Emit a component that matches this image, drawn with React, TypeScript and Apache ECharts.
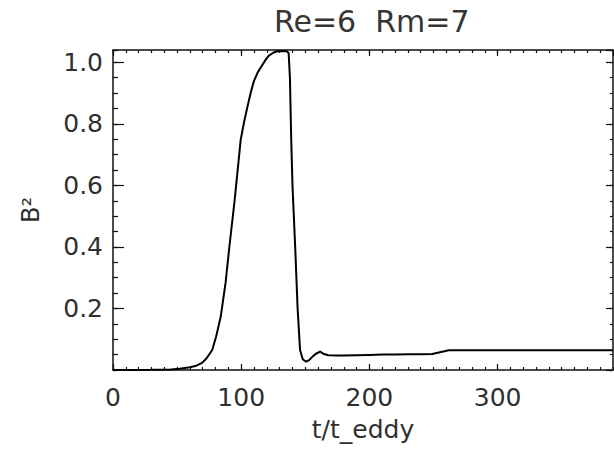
import React, { useEffect, useRef } from "react";
import * as echarts from "echarts";

const titleText = "Re=6  Rm=7";
const xName = "t/t_eddy";
const yName = "B²";

const tValues = [
  0, 20, 30, 45, 52, 60, 65, 69.5, 73, 77.4, 80.5, 84, 87.8, 90.5, 94.9, 97, 99.6,
  102.2, 104.9, 107.5, 110, 113, 116.6, 119, 121.6, 125, 128, 132, 135.5, 137, 138, 139,
  140, 142.2, 144, 145.9, 148, 150.6, 153, 156, 158, 161.5, 164, 168, 175, 180, 190,
  200, 210, 220, 230, 240, 249, 255, 262, 300, 350, 390,
];
const b2Values = [
  0, 0, 0.0005, 0.002, 0.004, 0.009, 0.014, 0.023, 0.038, 0.065, 0.11, 0.173, 0.283,
  0.39, 0.553, 0.64, 0.748, 0.805, 0.856, 0.903, 0.94, 0.968, 0.992, 1.008, 1.022, 1.031,
  1.036, 1.037, 1.036, 1.03, 0.95, 0.75, 0.6, 0.39, 0.2, 0.065, 0.035, 0.027, 0.032,
  0.045, 0.052, 0.06, 0.053, 0.048, 0.047, 0.047, 0.048, 0.049, 0.05, 0.05, 0.051,
  0.051, 0.052, 0.058, 0.064, 0.064, 0.064, 0.064,
];

const xMin = 0;
const xMax = 390;
const xMajor = 100;
const xMinor = 10;
const yMin = 0;
const yMax = 1.04;
const yMajor = 0.2;
const yMinor = 0.05;

const FONT = "DejaVu Sans";
const INK = "#111";
const TXT = "#303030";

export default function App() {
  const ref = useRef<HTMLDivElement>(null);
  useEffect(() => {
    if (!ref.current) return;
    const chart = echarts.init(ref.current, undefined, { renderer: "svg" });
    const gridBox = { left: 113, right: 1, top: 50, bottom: 80 };
    const line = { show: true, onZero: false, lineStyle: { color: INK, width: 1.5 } };
    const noLine = { show: false, onZero: false };
    const tick = (len: number) => ({
      show: true,
      inside: true,
      length: len,
      lineStyle: { color: INK, width: 1.2 },
    });
    const data = tValues.map((t, i) => [t, b2Values[i]]);
    const xBase = { type: "value", min: xMin, max: xMax, splitLine: { show: false } };
    const yBase = { type: "value", min: yMin, max: yMax, splitLine: { show: false } };
    chart.setOption({
      animation: false,
      backgroundColor: "#fff",
      title: {
        text: titleText,
        left: 269,
        top: 1,
        textStyle: { fontFamily: FONT, fontSize: 30, fontWeight: "normal", color: "#353535" },
      },
      grid: [
        { ...gridBox, containLabel: false },
        { ...gridBox, containLabel: false },
      ],
      xAxis: [
        {
          ...xBase,
          gridIndex: 0,
          position: "bottom",
          interval: xMajor,
          axisLine: line,
          axisTick: tick(6),
          axisLabel: {
            show: true,
            margin: 15,
            showMaxLabel: false,
            fontFamily: FONT,
            fontSize: 25,
            color: TXT,
            formatter: (v: number) => (v % 100 === 0 ? String(v) : ""),
          },
          name: xName,
          nameLocation: "middle",
          nameGap: 47,
          nameTextStyle: { fontFamily: FONT, fontSize: 25, color: TXT },
        },
        {
          ...xBase,
          gridIndex: 0,
          position: "top",
          interval: xMajor,
          axisLine: line,
          axisTick: tick(6),
          axisLabel: { show: false },
        },
        {
          ...xBase,
          gridIndex: 1,
          position: "bottom",
          interval: xMinor,
          axisLine: noLine,
          axisTick: tick(3),
          axisLabel: { show: false },
        },
        {
          ...xBase,
          gridIndex: 1,
          position: "top",
          interval: xMinor,
          axisLine: noLine,
          axisTick: tick(3),
          axisLabel: { show: false },
        },
      ],
      yAxis: [
        {
          ...yBase,
          gridIndex: 0,
          position: "left",
          interval: yMajor,
          axisLine: line,
          axisTick: tick(11),
          axisLabel: {
            show: true,
            margin: 10,
            showMinLabel: false,
            showMaxLabel: false,
            fontFamily: FONT,
            fontSize: 25,
            color: TXT,
            formatter: (v: number) => (v <= 0 || v > 1.01 ? "" : v.toFixed(1)),
          },
          name: yName,
          nameLocation: "middle",
          nameRotate: 90,
          nameGap: 70,
          nameTextStyle: { fontFamily: FONT, fontSize: 24, color: TXT },
        },
        {
          ...yBase,
          gridIndex: 0,
          position: "right",
          interval: yMajor,
          axisLine: line,
          axisTick: tick(7),
          axisLabel: { show: false },
        },
        {
          ...yBase,
          gridIndex: 1,
          position: "left",
          interval: yMinor,
          axisLine: noLine,
          axisTick: tick(5),
          axisLabel: { show: false },
        },
        {
          ...yBase,
          gridIndex: 1,
          position: "right",
          interval: yMinor,
          axisLine: noLine,
          axisTick: tick(3),
          axisLabel: { show: false },
        },
      ],
      series: [
        {
          type: "line",
          xAxisIndex: 0,
          yAxisIndex: 0,
          data,
          showSymbol: false,
          symbol: "none",
          lineStyle: { color: "#000", width: 2 },
        },
      ],
    });
    return () => chart.dispose();
  }, []);
  return (
    <div
      ref={ref}
      style={{ position: "fixed", left: 0, top: 0, width: 614, height: 450, background: "#fff" }}
    />
  );
}
